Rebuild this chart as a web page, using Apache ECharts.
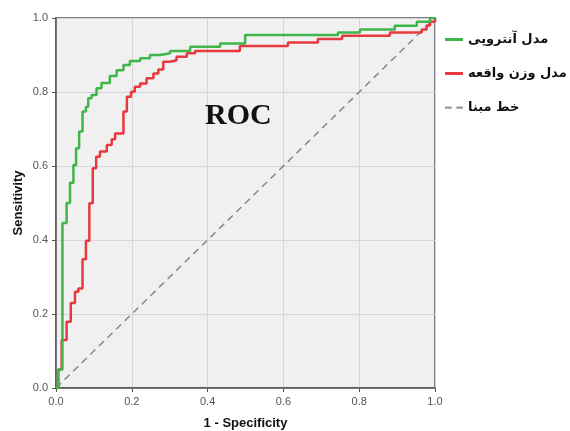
<!DOCTYPE html>
<html><head><meta charset="utf-8">
<script src="https://cdn.jsdelivr.net/npm/echarts@6/dist/echarts.min.js"></script>
<style>html,body{margin:0;padding:0;background:#fff}#c{width:570px;height:431px}</style>
</head><body><div id="c"></div>
<script>
const seriesNames = ['مدل آنتروپی', 'مدل وزن واقعه', 'خط مبنا'];
const entropyX = [0,0.006,0.017,0.028,0.037,0.046,0.053,0.061,0.07,0.079,0.085,0.094,0.107,0.12,0.142,0.16,0.178,0.195,0.222,0.248,0.274,0.301,0.354,0.433,0.499,0.744,0.802,0.894,0.952,0.987,1];
const entropyY = [0,0.05,0.446,0.50,0.555,0.603,0.648,0.693,0.747,0.76,0.783,0.792,0.81,0.824,0.843,0.859,0.873,0.884,0.891,0.9,0.905,0.911,0.922,0.931,0.954,0.961,0.969,0.979,0.99,1,1];
const eventX = [0,0.006,0.015,0.028,0.039,0.05,0.059,0.07,0.079,0.088,0.097,0.106,0.116,0.134,0.147,0.156,0.178,0.187,0.198,0.208,0.222,0.239,0.257,0.27,0.283,0.301,0.318,0.345,0.367,0.485,0.612,0.691,0.755,0.881,0.965,0.978,0.987,1];
const eventY = [0,0.05,0.13,0.179,0.23,0.26,0.269,0.348,0.398,0.499,0.594,0.625,0.639,0.657,0.672,0.688,0.747,0.787,0.801,0.814,0.823,0.837,0.85,0.861,0.882,0.886,0.895,0.905,0.911,0.924,0.934,0.943,0.952,0.961,0.969,0.98,0.99,1];
const baseX = [0, 1];
const baseY = [0, 1];
const axisTicks = [0, 0.2, 0.4, 0.6, 0.8, 1.0];
const titleText = 'ROC';
const xName = '1 - Specificity';
const yName = 'Sensitivity';

const zip = (a, b) => a.map((v, i) => [v, b[i]]);
const chart = echarts.init(document.getElementById('c'));
const axisCommon = {
  type: 'value', min: 0, max: 1, interval: 0.2,
  axisLine: {show: true, lineStyle: {color: '#555', width: 1.5}},
  axisTick: {show: true, length: 4, lineStyle: {color: '#555'}},
  axisLabel: {color: '#555', fontSize: 11, fontFamily: 'Liberation Sans', formatter: v => v.toFixed(1)},
  splitLine: {show: true, lineStyle: {color: '#d6d6d6', width: 1}},
  nameLocation: 'middle',
  nameMoveOverlap: false,
  nameTextStyle: {color: '#111', fontSize: 13, fontWeight: 'bold', fontFamily: 'Liberation Sans'}
};
chart.setOption({
  animation: false,
  backgroundColor: '#fff',
  grid: {left: 56, right: 135, top: 18, bottom: 43, show: true, containLabel: false, outerBoundsMode: 'none', backgroundColor: '#f0f0f0', borderColor: '#555', borderWidth: 1.5},
  title: {text: titleText, left: 200, top: 96, textStyle: {fontFamily: 'Liberation Serif', fontWeight: 'bold', fontSize: 30, color: '#111'}},
  xAxis: Object.assign({}, axisCommon, {name: xName, nameGap: 29}),
  yAxis: Object.assign({}, axisCommon, {name: yName, nameGap: 31}),
  legend: {
    orient: 'vertical', left: 440, top: 28, itemGap: 21, itemWidth: 18, itemHeight: 3,
    textStyle: {fontFamily: 'DejaVu Sans', fontWeight: 'bold', fontSize: 13, color: '#111'},
    data: [
      {name: seriesNames[0], icon: 'rect'},
      {name: seriesNames[1], icon: 'rect'},
      {name: seriesNames[2], icon: 'path://M0,0h6v2h-6z M10,0h6v2h-6z', itemStyle: {color: '#999'}}
    ]
  },
  series: [
    {name: seriesNames[0], type: 'line', step: 'end', data: zip(entropyX, entropyY), showSymbol: false, lineStyle: {color: '#3fb54a', width: 2.5}, itemStyle: {color: '#3fb54a'}, z: 3},
    {name: seriesNames[1], type: 'line', step: 'end', data: zip(eventX, eventY), showSymbol: false, lineStyle: {color: '#e8393f', width: 2.5}, itemStyle: {color: '#e8393f'}, z: 2},
    {name: seriesNames[2], type: 'line', data: zip(baseX, baseY), showSymbol: false, lineStyle: {color: '#888', width: 1.5, type: [7, 5]}, itemStyle: {color: '#999'}, z: 1}
  ]
});
</script></body></html>
